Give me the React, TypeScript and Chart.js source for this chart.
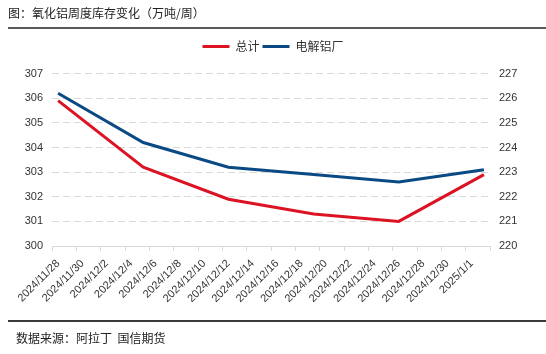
import React, { useEffect, useRef } from "react";
import { Chart, registerables } from "chart.js";

Chart.register(...registerables);

// Category slots (one per day, labels shown every second day)
const categories = [
  "2024/11/28", "2024/11/29", "2024/11/30", "2024/12/1", "2024/12/2", "2024/12/3",
  "2024/12/4", "2024/12/5", "2024/12/6", "2024/12/7", "2024/12/8", "2024/12/9",
  "2024/12/10", "2024/12/11", "2024/12/12", "2024/12/13", "2024/12/14", "2024/12/15",
  "2024/12/16", "2024/12/17", "2024/12/18", "2024/12/19", "2024/12/20", "2024/12/21",
  "2024/12/22", "2024/12/23", "2024/12/24", "2024/12/25", "2024/12/26", "2024/12/27",
  "2024/12/28", "2024/12/29", "2024/12/30", "2024/12/31", "2025/1/1", "2025/1/2",
];

// Observation dates
const dataDates = ["2024/11/28", "2024/12/5", "2024/12/12", "2024/12/19", "2024/12/26", "2025/1/2"];

// 总计 (left axis)
const totalValues = [305.9, 303.2, 301.9, 301.3, 301.0, 302.9];
// 电解铝厂 (right axis)
const smelterValues = [226.2, 224.2, 223.2, 222.9, 222.6, 223.1];

const leftTicks = [300, 301, 302, 303, 304, 305, 306, 307];
const rightTicks = [220, 221, 222, 223, 224, 225, 226, 227];

const RED = "#dc1323";
const BLUE = "#0a4a84";
const GRID = "#d9d9d9";
const TICK_FONT = { family: "'Liberation Sans', Arial, sans-serif", size: 11 };

export default function App() {
  const canvasRef = useRef<HTMLCanvasElement | null>(null);

  useEffect(() => {
    if (!canvasRef.current) return;
    const chart = new Chart(canvasRef.current, {
      type: "line",
      data: {
        labels: categories,
        datasets: [
          {
            label: "总计",
            data: dataDates.map((d, i) => ({ x: d, y: totalValues[i] })),
            borderColor: RED,
            backgroundColor: RED,
            borderWidth: 3,
            pointRadius: 0,
            tension: 0,
            yAxisID: "y",
          },
          {
            label: "电解铝厂",
            data: dataDates.map((d, i) => ({ x: d, y: smelterValues[i] })),
            borderColor: BLUE,
            backgroundColor: BLUE,
            borderWidth: 3,
            pointRadius: 0,
            tension: 0,
            yAxisID: "y1",
          },
        ],
      },
      options: {
        responsive: false,
        animation: false,
        devicePixelRatio: 1,
        layout: { padding: { top: 37.5, left: 0, right: 0, bottom: 48 } },
        plugins: {
          tooltip: { enabled: false },
          // empty spacer between legend and plot area
          title: {
            display: true,
            text: "",
            weight: 500,
            position: "top",
            font: { size: 1, lineHeight: 1 },
            padding: { top: 10.1, bottom: 0 },
          },
          legend: {
            position: "top",
            labels: {
              boxWidth: 27,
              boxHeight: 3,
              padding: 3,
              color: "#333",
              font: { family: "'Noto Sans CJK SC', sans-serif", size: 12 },
              generateLabels: (c: any) =>
                Chart.defaults.plugins.legend.labels
                  .generateLabels(c)
                  .map((it: any) => ({ ...it, lineWidth: 0, fillStyle: it.strokeStyle })),
            },
          },
        },
        scales: {
          x: {
            type: "category",
            offset: true,
            afterFit: (s: any) => {
              s.height = 60;
            },
            grid: {
              offset: true,
              drawOnChartArea: false,
              drawTicks: true,
              tickLength: 5,
              color: (c: any) =>
                c.index === undefined || c.index % 2 === 0 ? GRID : "rgba(0,0,0,0)",
            },
            border: { display: true, color: GRID, width: 1 },
            ticks: {
              autoSkip: false,
              minRotation: 45,
              maxRotation: 45,
              padding: 6,
              color: "#333",
              font: TICK_FONT,
              callback: (_v: any, i: number) => (i % 2 === 0 ? categories[i] : ""),
            },
          },
          y: {
            position: "left",
            min: leftTicks[0],
            max: leftTicks[leftTicks.length - 1],
            afterFit: (s: any) => {
              s.width = 52;
            },
            afterBuildTicks: (s: any) => {
              s.ticks = leftTicks.map((v) => ({ value: v }));
            },
            grid: {
              drawTicks: false,
              color: (c: any) => (c.tick && c.tick.value === leftTicks[0] ? "rgba(0,0,0,0)" : GRID),
            },
            border: { display: false, dash: [7, 4] },
            ticks: { padding: 9, color: "#333", font: TICK_FONT },
          },
          y1: {
            position: "right",
            min: rightTicks[0],
            max: rightTicks[rightTicks.length - 1],
            afterFit: (s: any) => {
              s.width = 56;
            },
            afterBuildTicks: (s: any) => {
              s.ticks = rightTicks.map((v) => ({ value: v }));
            },
            grid: { drawOnChartArea: false, drawTicks: false },
            border: { display: false },
            ticks: { padding: 9, color: "#333", font: TICK_FONT },
          },
        },
      },
    });
    return () => chart.destroy();
  }, []);

  const cjk = "'Noto Sans CJK SC', sans-serif";
  return (
    <div style={{ position: "absolute", left: 0, top: 0, width: 546, height: 354, background: "#fff", overflow: "hidden" }}>
      <canvas ref={canvasRef} width={546} height={354} style={{ position: "absolute", left: 0, top: 0, width: 546, height: 354 }} />
      <div style={{ position: "absolute", left: 8, top: 5, fontFamily: cjk, fontSize: 12, lineHeight: "16px", color: "#222", whiteSpace: "nowrap" }}>
        图：氧化铝周度库存变化（万吨/周）
      </div>
      <div style={{ position: "absolute", left: 8, top: 27, width: 538, height: 2, background: "#5a5a5a" }} />
      <div style={{ position: "absolute", left: 8, top: 320, width: 538, height: 2, background: "#3a3a3a" }} />
      <div style={{ position: "absolute", left: 16, top: 330, fontFamily: cjk, fontSize: 12, lineHeight: "16px", color: "#222", whiteSpace: "pre" }}>
        数据来源：阿拉丁  国信期货
      </div>
    </div>
  );
}
